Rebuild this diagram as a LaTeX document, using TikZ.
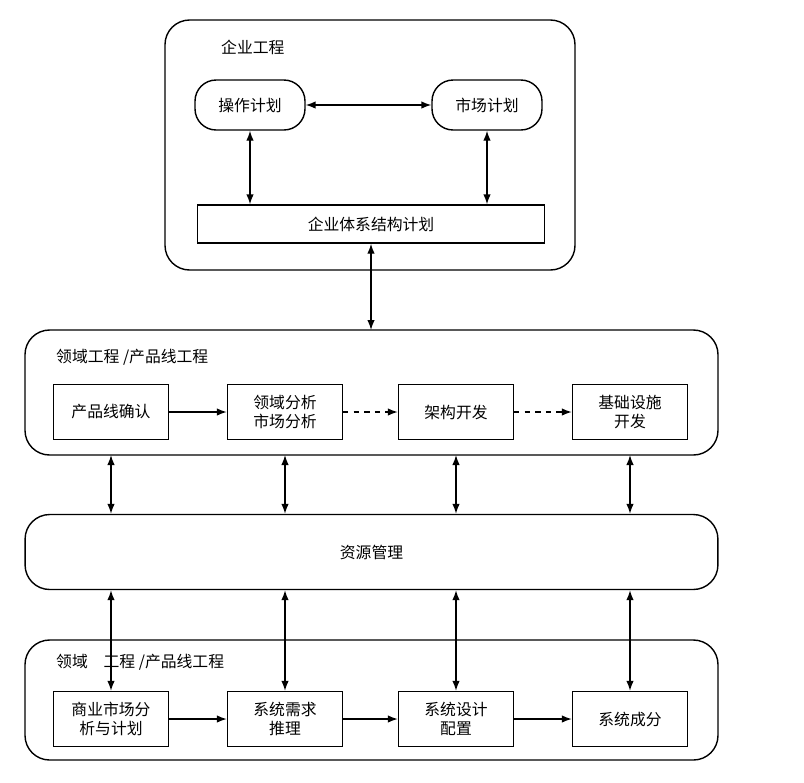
\documentclass[tikz,border=0pt]{standalone}
\usepackage{fontspec}
\newfontfamily\cjk{Noto Sans CJK SC}
\usetikzlibrary{positioning,shapes,arrows.meta}

\begin{document}
\begin{tikzpicture}[x=0.02cm,y=-0.02cm,font=\cjk\small,
  frame/.style={draw,thick,rounded corners=14pt},
  plan/.style={draw,thick,rounded corners=12pt,minimum width=2.2cm,minimum height=1cm},
  box/.style={draw,thick,minimum width=2.3cm,minimum height=1.1cm,align=center},
  link/.style={thick,-{Latex[length=2mm]}},
  both/.style={thick,{Latex[length=2mm]}-{Latex[length=2mm]}}]
\useasboundingbox (0,0) rectangle (804,782);

\draw[frame] (165,20) rectangle (575,270);
\node[anchor=west] (ent) at (215,47) {企业工程};
\node[plan] (op) at (250,105) {操作计划};
\node[plan] (mk) at (487,105) {市场计划};
\node[draw,thick,minimum width=6.94cm,minimum height=0.76cm] (arch) at (371,224) {企业体系结构计划};
\draw[both] (op) -- (mk);
\draw[both] (op.south) -- (op.south |- arch.north);
\draw[both] (mk.south) -- (mk.south |- arch.north);

\draw[frame] (25,330) rectangle (718,455);
\node[anchor=west] (dom) at (50,357) {领域工程 /产品线工程};
\coordinate (midtop) at (371,330);
\draw[both] (arch.south) -- (midtop);

\node[draw,thick,rounded corners=14pt,minimum width=13.86cm,minimum height=1.5cm] (res) at (371.5,552) {资源管理};

\draw[frame] (25,640) rectangle (718,760);
\node[anchor=west] (app) at (50,662) {领域\quad 工程 /产品线工程};

\foreach \i/\x/\up/\low in {1/111/产品线确认/商业市场分\\析与计划, 2/285/领域分析\\市场分析/系统需求\\推理, 3/456/架构开发/系统设计\\配置, 4/630/基础设施\\开发/系统成分} {
  \node[box] (u\i) at (\x,412) {\up};
  \node[box] (l\i) at (\x,719) {\low};
  \coordinate (a\i) at (\x,455);
  \draw[both] (a\i) -- (a\i |- res.north);
  \draw[both] (res.south -| l\i) -- (l\i.north);
}

\draw[link] (u1) -- (u2);
\draw[link,dashed] (u2) -- (u3);
\draw[link,dashed] (u3) -- (u4);
\draw[link] (l1) -- (l2);
\draw[link] (l2) -- (l3);
\draw[link] (l3) -- (l4);
\end{tikzpicture}
\end{document}
